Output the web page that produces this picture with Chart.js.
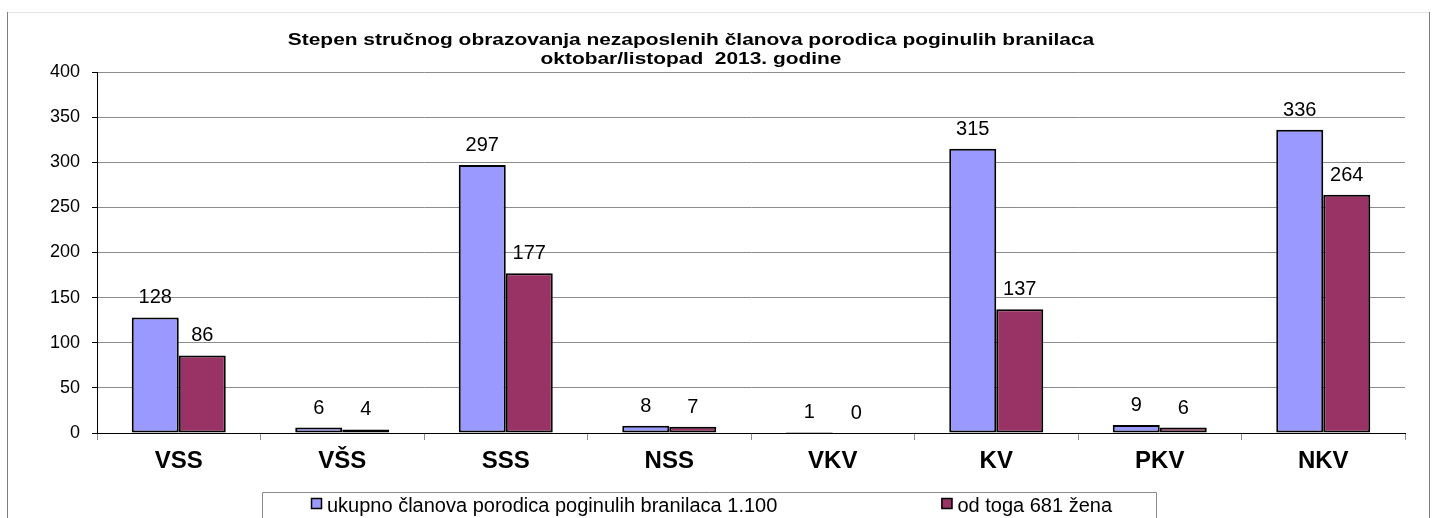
<!DOCTYPE html>
<html>
<head>
<meta charset="utf-8">
<script src="https://cdn.jsdelivr.net/npm/chart.js@4.4.1/dist/chart.umd.min.js"></script>
<style>
  body { margin: 0; background: #fff; }
  #wrap { width: 1433px; height: 518px; }
</style>
</head>
<body>
<div id="wrap"><canvas id="chart" width="1433" height="518"></canvas></div>
<script>
var categories = ["VSS", "VŠS", "SSS", "NSS", "VKV", "KV", "PKV", "NKV"];
var ukupno = [128, 6, 297, 8, 1, 315, 9, 336];
var zene = [86, 4, 177, 7, 0, 137, 6, 264];
var seriesNames = ["ukupno članova porodica poginulih branilaca 1.100", "od toga 681 žena"];
var titleLines = ["Stepen stručnog obrazovanja nezaposlenih članova porodica poginulih branilaca", "oktobar/listopad  2013. godine"];

var FONT = "'Liberation Sans', Arial, sans-serif";

// frame around the chart, white background and the (slightly wide) title
var framePlugin = {
  id: "frame",
  beforeDraw: function (chart) {
    var ctx = chart.ctx;
    ctx.save();
    ctx.fillStyle = "#fff";
    ctx.fillRect(0, 0, chart.width, chart.height);
    ctx.strokeStyle = "#e3e3e3";
    ctx.lineWidth = 1;
    ctx.beginPath();
    ctx.moveTo(7, 12.5);
    ctx.lineTo(1429, 12.5);
    ctx.stroke();
    ctx.strokeStyle = "#7f7f7f";
    ctx.beginPath();
    ctx.moveTo(7.5, 12);
    ctx.lineTo(7.5, chart.height);
    ctx.moveTo(1429.5, 12);
    ctx.lineTo(1429.5, chart.height);
    ctx.stroke();

    // title, stretched a little like the original
    var cx = (chart.chartArea.left + chart.chartArea.right) / 2 - 60;
    ctx.fillStyle = "#000";
    ctx.font = "bold 17px " + FONT;
    ctx.textAlign = "center";
    ctx.textBaseline = "middle";
    titleLines.forEach(function (line, i) {
      ctx.save();
      ctx.translate(cx, 40 + i * 19);
      ctx.scale(1.23, 1);
      ctx.fillText(line, 0, 0);
      ctx.restore();
    });
    ctx.restore();
  }
};

// value labels above the bars
var valueLabels = {
  id: "valueLabels",
  afterDatasetsDraw: function (chart) {
    var ctx = chart.ctx;
    ctx.save();
    ctx.font = "20px " + FONT;
    ctx.fillStyle = "#000";
    ctx.textAlign = "center";
    ctx.textBaseline = "alphabetic";
    chart.data.datasets.forEach(function (ds, i) {
      chart.getDatasetMeta(i).data.forEach(function (bar, j) {
        ctx.fillText(ds.data[j], bar.x, bar.y - 14);
      });
    });
    ctx.restore();
  }
};

// boxed legend at the bottom
var boxLegend = {
  id: "boxLegend",
  afterDraw: function (chart) {
    var ctx = chart.ctx;
    var left = 262, right = 1156, top = 492;
    ctx.save();
    ctx.strokeStyle = "#8c8c8c";
    ctx.lineWidth = 1;
    ctx.beginPath();
    ctx.moveTo(left + 0.5, chart.height);
    ctx.lineTo(left + 0.5, top + 0.5);
    ctx.lineTo(right + 0.5, top + 0.5);
    ctx.lineTo(right + 0.5, chart.height);
    ctx.stroke();

    ctx.font = "20px " + FONT;
    ctx.textBaseline = "alphabetic";
    ctx.textAlign = "left";
    var ds = chart.data.datasets;
    var w2 = ctx.measureText(ds[1].label).width;
    var xs = [left + 49, right - 43 - w2 - 17];
    ds.forEach(function (d, i) {
      ctx.fillStyle = d.backgroundColor;
      ctx.fillRect(xs[i], 498, 11, 11);
      ctx.strokeStyle = "#000";
      ctx.lineWidth = 1.5;
      ctx.strokeRect(xs[i] + 0.5, 498.5, 10, 10);
      ctx.fillStyle = "#000";
      ctx.fillText(d.label, xs[i] + 16, 512);
    });
    ctx.restore();
  }
};

new Chart(document.getElementById("chart"), {
  type: "bar",
  data: {
    labels: categories,
    datasets: [
      {
        label: seriesNames[0],
        data: ukupno,
        backgroundColor: "#9999ff",
        borderColor: "#000",
        borderWidth: 2,
        borderSkipped: false,
        categoryPercentage: 0.575,
        barPercentage: 1
      },
      {
        label: seriesNames[1],
        data: zene,
        backgroundColor: "#993366",
        borderColor: "#000",
        borderWidth: 2,
        borderSkipped: false,
        categoryPercentage: 0.575,
        barPercentage: 1
      }
    ]
  },
  options: {
    responsive: false,
    animation: false,
    layout: {
      padding: { left: 0, right: 28, top: 72, bottom: 45 }
    },
    plugins: {
      legend: { display: false },
      tooltip: { enabled: false },
      title: { display: false }
    },
    scales: {
      x: {
        afterFit: function (scale) { scale.height = 40; },
        grid: {
          offset: true,
          drawOnChartArea: false,
          drawTicks: true,
          tickLength: 7,
          tickColor: "#8c8c8c"
        },
        border: { color: "#000", width: 1 },
        ticks: {
          color: "#000",
          padding: 7,
          font: { family: FONT, size: 24, weight: "bold" }
        }
      },
      y: {
        min: 0,
        max: 400,
        afterFit: function (scale) { scale.width = 97; },
        ticks: {
          stepSize: 50,
          color: "#000",
          padding: 12,
          font: { family: FONT, size: 18 }
        },
        grid: {
          color: "#8c8c8c",
          tickLength: 5,
          tickColor: "#000"
        },
        border: { color: "#000", width: 1 }
      }
    }
  },
  plugins: [framePlugin, valueLabels, boxLegend]
});
</script>
</body>
</html>
